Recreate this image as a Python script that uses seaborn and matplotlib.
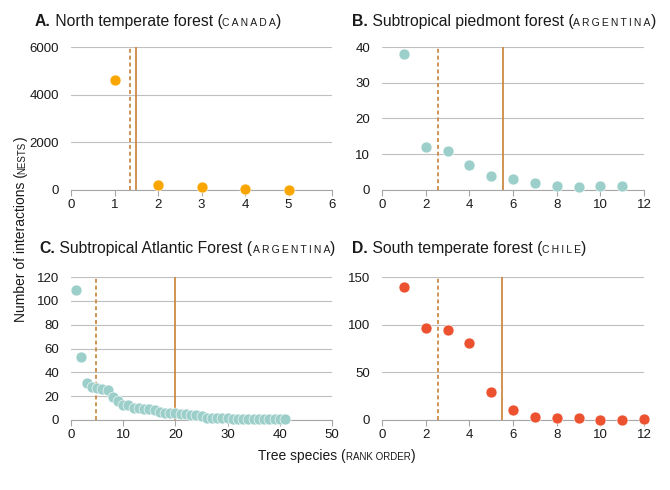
import numpy as np
import pandas as pd
import seaborn as sns
import matplotlib
matplotlib.use("Agg")
import matplotlib.pyplot as plt
from matplotlib import font_manager
from matplotlib.ft2font import FT2Font

# ---- data ----
canada_rank = [1, 2, 3, 4, 5]
canada_nests = [4600, 200, 130, 40, 20]
canada_lines = (1.35, 1.5)

piedmont_rank = list(range(1, 12))
piedmont_nests = [38, 12, 11, 7, 4, 3, 2, 1, 0.8, 1, 1]
piedmont_lines = (2.55, 5.55)

atlantic_rank = list(range(1, 42))
atlantic_nests = [109, 53, 31, 28, 27, 26, 25, 19, 16, 13,
                  13, 10, 10, 9, 9, 8, 7, 6, 6, 6,
                  5, 5, 4, 4, 3, 2, 2, 2, 2, 2,
                  1, 1, 1, 1, 1, 1, 1, 1, 1, 1, 1]
atlantic_lines = (4.8, 20)

chile_rank = list(range(1, 13))
chile_nests = [140, 96, 94, 81, 29, 11, 3, 2, 2, 0, 0, 1]
chile_lines = (2.55, 5.5)

sns.set_theme(style="white")
plt.rcParams['font.family'] = ['Liberation Sans', 'DejaVu Sans']

W, H = 670, 490
fig = plt.figure(figsize=(6.7, 4.9), dpi=100)

GRID = "#BFBFBF"
LINE = "#CC8A45"
TXT = "#1a1a1a"
THIN = "\u2009"

_paths = {w: font_manager.findfont(font_manager.FontProperties(family='Liberation Sans', weight=w))
          for w in ("normal", "bold")}


def px(x, y):
    return x / W, 1 - y / H


def advance(s, size, weight):
    # sum of glyph advances in pixels (dpi 100); thin space = 0.2 em
    f = FT2Font(_paths[weight])
    f.set_size(size, 100)
    em = size * 100 / 72
    return sum(0.2 * em if c == THIN else f.load_char(ord(c)).linearHoriAdvance / 65536 for c in s)


def rich(x, y, runs, rotation=0, center=False):
    # runs: (text, size, weight, spaced)
    pieces = []
    for text, size, weight, spaced in runs:
        s = THIN.join(text) if spaced else text
        pieces.append((s, size, weight, advance(s, size, weight)))
    total = sum(p[3] for p in pieces)
    d = np.array([np.cos(np.radians(rotation)), -np.sin(np.radians(rotation))])
    pos = np.array([x, y], dtype=float)
    if center:
        pos -= d * total / 2
    for s, size, weight, adv in pieces:
        fig.text(*px(*pos), s, fontsize=size, fontweight=weight, color=TXT,
                 rotation=rotation, rotation_mode='anchor', ha='left', va='baseline')
        pos += d * adv


def panel(rect, x, y, color, lines, xlim, xstep, ylim, ystep):
    left, top, right, bottom = rect
    ax = fig.add_axes([left / W, 1 - bottom / H, (right - left) / W, (bottom - top) / H])
    df = pd.DataFrame({"rank": x, "nests": y})
    sns.scatterplot(data=df, x="rank", y="nests", ax=ax, color=color, s=62,
                    edgecolor="white", linewidth=0.4, clip_on=False, zorder=3)
    ax.axvline(lines[0], color=LINE, lw=1.3, ls=(0, (2.2, 1.6)), zorder=2)
    ax.axvline(lines[1], color=LINE, lw=1.3, zorder=2)
    ax.set_xlim(*xlim)
    ax.set_ylim(*ylim)
    ax.set_xticks(np.arange(xlim[0], xlim[1] + xstep / 2, xstep))
    ax.set_yticks(np.arange(ylim[0], ylim[1] + ystep / 2, ystep))
    ax.yaxis.grid(True, color=GRID, lw=0.8)
    ax.set_axisbelow(True)
    for side in ["left", "right", "top"]:
        ax.spines[side].set_visible(False)
    ax.spines["bottom"].set_color("#A6A6A6")
    ax.spines["bottom"].set_linewidth(0.8)
    ax.tick_params(axis="x", bottom=True, direction="out", length=4, width=0.8,
                   color="#A6A6A6", labelsize=9.5, labelcolor=TXT, pad=2.5)
    ax.tick_params(axis="y", left=False, labelsize=9.5, labelcolor=TXT, pad=2.5)
    ax.set_xlabel("")
    ax.set_ylabel("")
    return ax


panel((71, 47, 332, 190), canada_rank, canada_nests, "#F9A602", canada_lines, (0, 6), 1, (0, 6000), 2000)
panel((382, 47, 644, 190), piedmont_rank, piedmont_nests, "#9DCFCA", piedmont_lines, (0, 12), 2, (0, 40), 10)
panel((71, 277, 332, 420), atlantic_rank, atlantic_nests, "#9DCFCA", atlantic_lines, (0, 50), 10, (0, 120), 20)
panel((382, 277, 644, 420), chile_rank, chile_nests, "#EC5230", chile_lines, (0, 12), 2, (0, 150), 50)

T = 11.3
SC = 7.5
titles = [
    (35, 26, "A.", "North temperate forest", "CANADA"),
    (352, 26, "B.", "Subtropical piedmont forest", "ARGENTINA"),
    (39, 253, "C.", "Subtropical Atlantic Forest", "ARGENTINA"),
    (352, 253, "D.", "South temperate forest", "CHILE"),
]
for tx, ty, letter, name, country in titles:
    rich(tx, ty, [(letter, T, "bold", False), (" " + name + " (", T, "normal", False),
                  (country, SC, "normal", True), (")", T, "normal", False)])

L = 10
rich(25, 229, [("Number of interactions (", L, "normal", False),
               ("NESTS", 7, "normal", False), (")", L, "normal", False)], rotation=90, center=True)
rich(337, 460, [("Tree species (", L, "normal", False),
                ("RANK ORDER", 7, "normal", False), (")", L, "normal", False)], center=True)

fig.savefig("out.png", dpi=100)
